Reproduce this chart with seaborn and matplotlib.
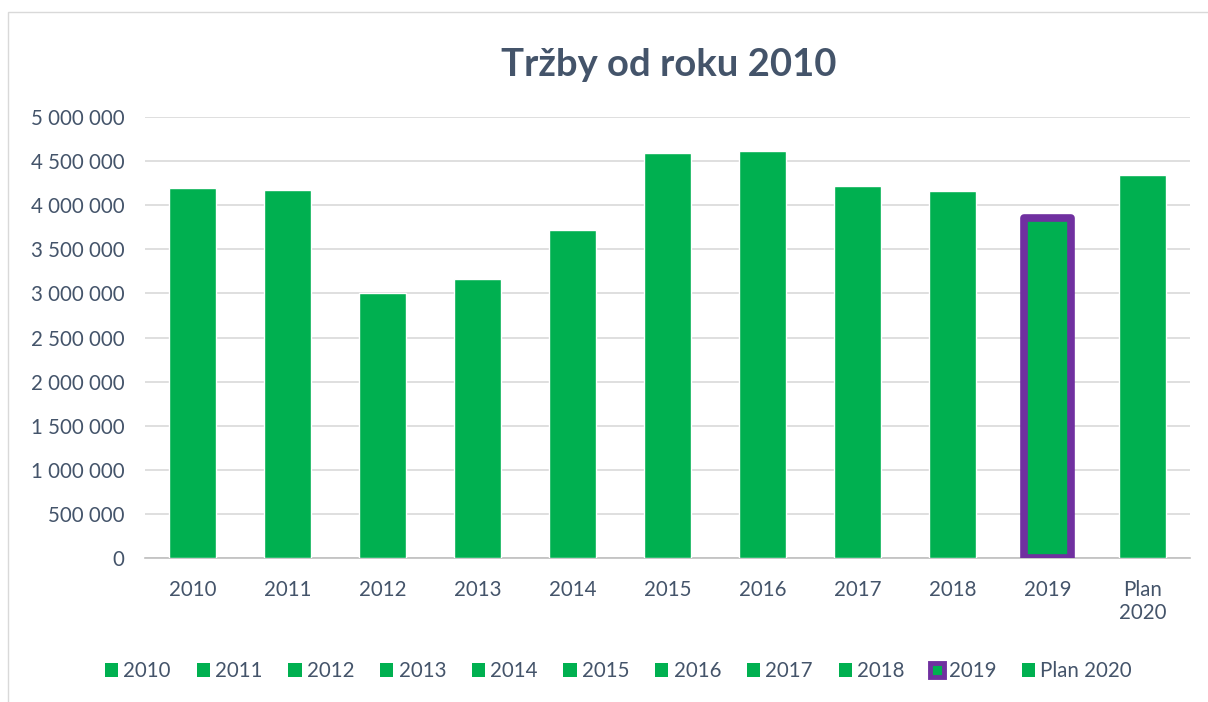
import matplotlib
matplotlib.use("Agg")
import matplotlib.pyplot as plt
import matplotlib.ticker as mticker
from matplotlib.patches import Rectangle, Patch
import seaborn as sns

# Data
categories = ['2010', '2011', '2012', '2013', '2014', '2015', '2016', '2017', '2018', '2019', 'Plan 2020']
tick_labels = ['2010', '2011', '2012', '2013', '2014', '2015', '2016', '2017', '2018', '2019', 'Plan\n2020']
revenue = [4190000, 4170000, 3000000, 3160000, 3720000, 4590000, 4610000, 4215000, 4160000, 3860000, 4340000]
highlight = '2019'

green = '#00B050'
purple = '#7030A0'
text_col = '#44546A'
grid_col = '#D9D9D9'

sns.set_theme(style="white")
plt.rcParams['font.family'] = ['Lato', 'DejaVu Sans']

fig = plt.figure(figsize=(12.08, 7.02), dpi=100)
ax = fig.add_axes([145 / 1208, 1 - 558 / 702, (1190 - 145) / 1208, (558 - 117) / 702])

sns.barplot(x=categories, y=revenue, order=categories, color=green, width=0.5,
            saturation=1, ax=ax, zorder=3)

# highlight 2019 with purple outline
idx = categories.index(highlight)
bar = ax.patches[idx]
bar.set_edgecolor(purple)
bar.set_linewidth(5.5)
bar.set_joinstyle('round')

ax.set_ylim(0, 5000000)
ax.yaxis.set_major_locator(mticker.MultipleLocator(500000))
ax.yaxis.set_major_formatter(mticker.FuncFormatter(lambda v, p: f"{int(v):,}".replace(',', ' ')))
ax.set_xticks(range(len(categories)))
ax.set_xticklabels(tick_labels)
ax.grid(axis='y', color=grid_col, linewidth=1.2, zorder=0)
ax.set_axisbelow(True)
for s in ['top', 'right', 'left']:
    ax.spines[s].set_visible(False)
ax.spines['bottom'].set_color('#BFBFBF')
ax.spines['bottom'].set_linewidth(1.2)
ax.tick_params(axis='both', length=0, labelsize=14.8, labelcolor=text_col)
ax.tick_params(axis='y', pad=15)
ax.tick_params(axis='x', pad=16)
ax.set_xlabel('')
ax.set_ylabel('')

fig.text(0.554, 1 - 65 / 702, 'Tržby od roku 2010', ha='center', va='center',
         fontsize=27.5, fontweight='bold', color=text_col)

# legend at the bottom, one entry per category
handles = []
for c in categories:
    if c == highlight:
        handles.append(Patch(facecolor=green, edgecolor=purple, linewidth=3.5, joinstyle='round'))
    else:
        handles.append(Patch(facecolor=green, edgecolor='none'))
fig.legend(handles, categories, loc='center', bbox_to_anchor=(0.512, 1 - 671 / 702), ncol=len(categories),
           frameon=False, fontsize=14.8, handlelength=0.65, handleheight=0.65,
           handletextpad=0.25, columnspacing=1.25, labelcolor=text_col)

# chart area frame
fig.patches.append(Rectangle((8 / 1208, -0.1), 1.2, 1 - 12 / 702 + 0.1, transform=fig.transFigure,
                             fill=False, edgecolor='#D9D9D9', linewidth=1))

fig.savefig('out.png', dpi=100)
